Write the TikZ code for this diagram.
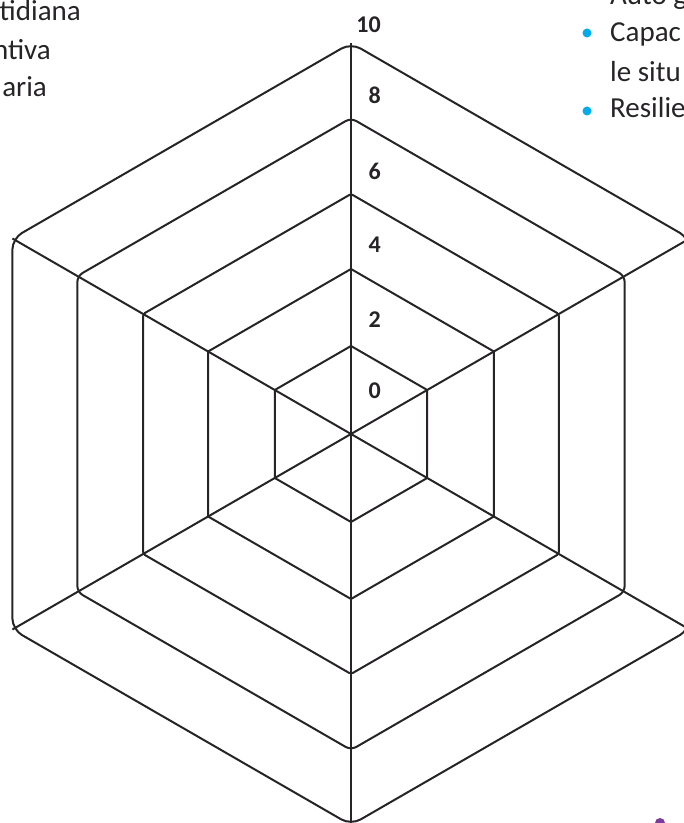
\documentclass[tikz,border=0pt]{standalone}
\usepackage{fontspec}
\setmainfont{Carlito}
\usetikzlibrary{shapes.geometric}

\definecolor{inkgray}{RGB}{38,36,38}
\definecolor{bulletblue}{RGB}{0,172,236}
\definecolor{bulletpurple}{RGB}{125,60,155}

\tikzset{
  ring/.style={draw=inkgray, line width=2pt, regular polygon,
    regular polygon sides=6, regular polygon rotate=30,
    inner sep=0pt, outer sep=0pt},
  spoke/.style={draw=inkgray, line width=2pt},
  scalelbl/.style={anchor=east, inner sep=0pt, text=inkgray,
    font=\bfseries\fontsize{24}{24}\selectfont},
  bodytext/.style={inner sep=0pt, text=inkgray,
    font=\fontsize{29}{35}\selectfont},
  dotmark/.style={circle, fill=bulletblue, inner sep=0pt, minimum size=9pt}
}

\begin{document}
\begin{tikzpicture}[x=1pt, y=1pt]
\useasboundingbox (0,0) rectangle (684,823);
\clip (0,0) rectangle (684,823);

% hexagon grid
\node[ring, minimum size=176pt, rounded corners=1pt] at (351,389) (ring0) {};
\node[ring, minimum size=330pt, rounded corners=1pt] at (351,389) (ring1) {};
\node[ring, minimum size=480pt, rounded corners=2pt] at (351,389) (ring2) {};
\node[ring, minimum size=632pt, rounded corners=6pt] at (351,389) (ring3) {};
\node[ring, minimum size=782pt, rounded corners=11pt] at (351,389) (ring4) {};

\draw[spoke] (ring4.corner 1) -- (ring4.corner 4);
\draw[spoke] (ring4.corner 2) -- (ring4.corner 5);
\draw[spoke] (ring4.corner 3) -- (ring4.corner 6);

% scale
\node[scalelbl] at (381,798) (lbl10) {10};
\node[scalelbl] at (381,728) (lbl8) {8};
\node[scalelbl] at (381,652) (lbl6) {6};
\node[scalelbl] at (381,578) (lbl4) {4};
\node[scalelbl] at (381,503) (lbl2) {2};
\node[scalelbl] at (381,432) (lbl0) {0};

% text cut by the page, left
\node[bodytext, anchor=base east] at (81,802) (lefta) {tidiana};
\node[bodytext, anchor=base east] at (51,763) (leftb) {ntiva};
\node[bodytext, anchor=base east] at (47,726) (leftc) {aria};

% text cut by the page, right
\node[bodytext, anchor=base west] at (610,818) (righta) {Auto g};
\node[dotmark] at (587,790) (dota) {};
\node[bodytext, anchor=base west] at (610,781) (rightb) {Capac};
\node[bodytext, anchor=base west] at (610,741) (rightc) {le situ};
\node[dotmark] at (587,712) (dotb) {};
\node[bodytext, anchor=base west] at (610,705) (rightd) {Resilie};

\node[dotmark, fill=bulletpurple, minimum size=10pt] at (660,0) (dotc) {};
\end{tikzpicture}
\end{document}
